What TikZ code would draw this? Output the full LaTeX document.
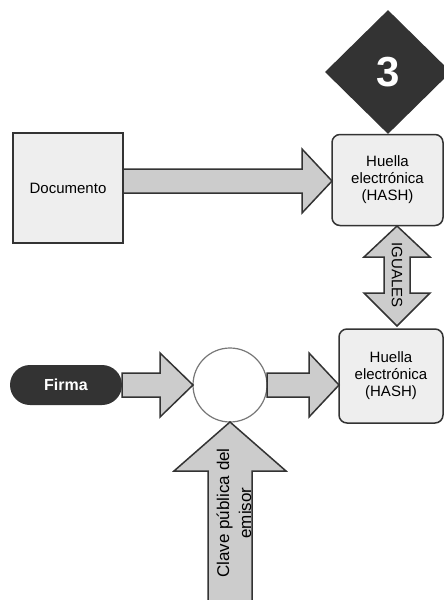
\documentclass[tikz,border=0pt]{standalone}
\usepackage{fontspec}
\setmainfont{Liberation Sans}
\usetikzlibrary{shapes.geometric}
\definecolor{boxgray}{HTML}{EEEEEE}
\definecolor{arrowgray}{HTML}{CCCCCC}
\definecolor{darkfill}{HTML}{333333}
\definecolor{edgegray}{HTML}{333333}
\definecolor{ringgray}{HTML}{777777}
\begin{document}
\begin{tikzpicture}[x=1pt,y=-1pt,
	box/.style={draw=edgegray,fill=boxgray,line width=1.5pt,align=center,font=\fontsize{15}{17}\selectfont},
	hashbox/.style={box,rounded corners=8pt},
	blockarrow/.style={draw=edgegray,fill=arrowgray,line width=1.5pt,line join=miter}]
	\useasboundingbox (0,0) rectangle (444,600);
	\clip (0,0) rectangle (444,600);
	\node[diamond,fill=darkfill,minimum width=126,minimum height=124,inner sep=0,text=white,font=\fontsize{42}{44}\selectfont\bfseries] (step3) at (388,72) {3};
	\node[box,minimum width=110,minimum height=110] (doc) at (68,188) {Documento};
	\node[hashbox,minimum width=111,minimum height=91] (hash1) at (387.5,180) {Huella\\electrónica\\(HASH)};
	\node[hashbox,minimum width=104,minimum height=94] (hash2) at (391,376) {Huella\\electrónica\\(HASH)};
	\node[fill=darkfill,rounded corners=20pt,minimum width=112,minimum height=40,text=white,font=\fontsize{16}{18}\selectfont\bfseries] (firma) at (66,385) {Firma};
	\node[circle,draw=ringgray,fill=white,line width=1.2pt,minimum size=74] (op) at (230,385) {};
	\draw[blockarrow] (123,169) -- (302,169) -- (302,149) -- (332,181) -- (302,213) -- (302,193) -- (123,193) -- cycle;
	\draw[blockarrow] (122,373) -- (160,373) -- (160,353) -- (193,385) -- (160,417) -- (160,397) -- (122,397) -- cycle;
	\draw[blockarrow] (267,373) -- (309,373) -- (309,353) -- (339,385) -- (309,417) -- (309,397) -- (267,397) -- cycle;
	\draw[blockarrow] (208,605) -- (208,471) -- (174,471) -- (230,422) -- (286,471) -- (252,471) -- (252,605) -- cycle;
	\draw[blockarrow] (397,226) -- (430,257) -- (410,257) -- (410,293) -- (430,293) -- (397,326) -- (364,293) -- (384,293) -- (384,257) -- (364,257) -- cycle;
	\node[rotate=-90,font=\fontsize{15}{17}\selectfont] (same) at (397,275) {IGUALES};
	\node[rotate=90,align=center,font=\fontsize{17}{22}\selectfont] (key) at (234,513) {Clave pública del\\emisor};
\end{tikzpicture}
\end{document}
